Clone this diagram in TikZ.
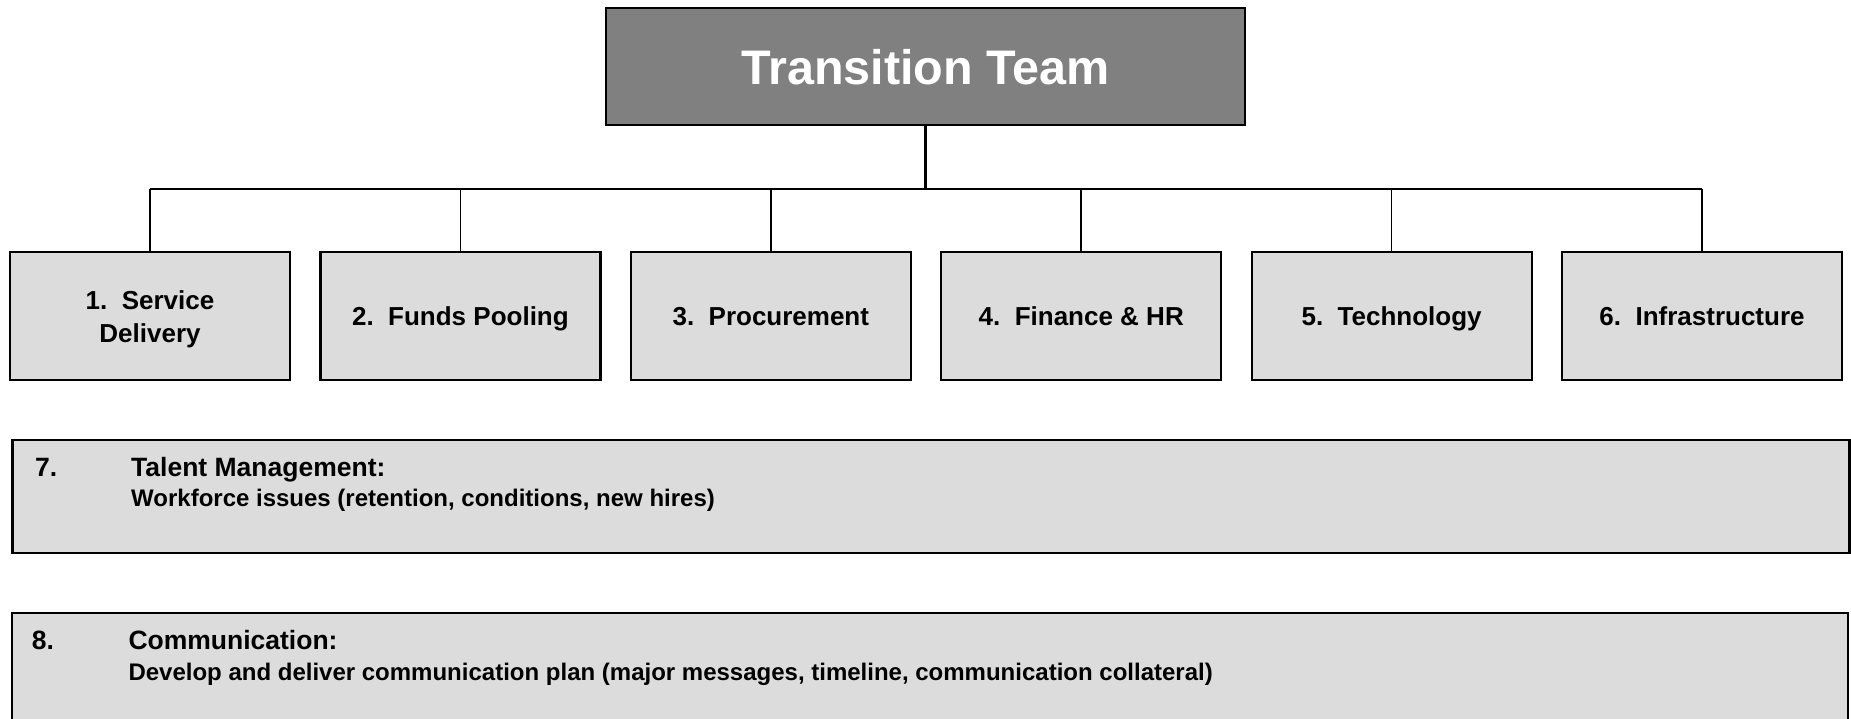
\documentclass[tikz,border=0pt]{standalone}
\usepackage{fontspec}
\setmainfont{Liberation Sans}
\usetikzlibrary{positioning}
\definecolor{headgray}{RGB}{128,128,128}
\definecolor{boxgray}{RGB}{220,220,220}

\begin{document}
\begin{tikzpicture}[x=1pt,y=-1pt,
  head/.style={draw=black,line width=2pt,fill=headgray,text=white,minimum width=639pt,minimum height=117pt,font=\fontsize{48.5}{56}\selectfont\bfseries},
  teambox/.style={draw=black,line width=2.2pt,fill=boxgray,minimum width=280pt,minimum height=128pt,align=center,font=\fontsize{26}{33}\selectfont\bfseries},
  team/.style={teambox,text height=19pt,text depth=0pt},
  band/.style={draw=black,line width=2.2pt,fill=boxgray,minimum height=113pt},
  num/.style={anchor=base west,inner sep=0pt,font=\fontsize{26.5}{30}\selectfont\bfseries},
  note/.style={anchor=base west,inner sep=0pt,font=\fontsize{24}{28}\selectfont\bfseries}]
\useasboundingbox (0,0) rectangle (1851,719);
\clip (0,0) rectangle (1851,719);
\node[head] (head) at (925.5,66.75) {Transition Team};
\node[teambox] (t1) at (150,316) {\rule{0pt}{26pt}1.\ \ Service\\Delivery};
\foreach \i/\txt in {2/{2.\ \ Funds Pooling},3/{3.\ \ Procurement},4/{4.\ \ Finance \& HR},5/{5.\ \ Technology},6/{6.\ \ Infrastructure}}
  \node[team] (t\i) at ({150+310.4*(\i-1)},316) {\txt};
% tree lines
\coordinate (hub) at (925.5,189);
\draw[line width=3pt] (head.south) -- (hub);
\draw[line width=2pt] (t1.north |- hub) -- (t6.north |- hub);
\foreach \i in {1,...,6}
  \draw[line width=1.6pt] (t\i.north |- hub) -- (t\i.north);
% wide bands
\node[band,minimum width=1837pt] (talent) at (931,496.5) {};
\node[num] (n7) at (35,476) {7.};
\node[num] (h7) at (131,476) {Talent Management:};
\node[note] (d7) at (131,506.7) {Workforce issues (retention, conditions, new hires)};
\node[band,minimum width=1836pt,minimum height=190pt] (comm) at (930,707.7) {};
\node[num] (n8) at (31.7,649) {8.};
\node[num] (h8) at (128.3,649) {Communication:};
\node[note] (d8) at (128.3,680) {Develop and deliver communication plan (major messages, timeline, communication collateral)};
\end{tikzpicture}
\end{document}
